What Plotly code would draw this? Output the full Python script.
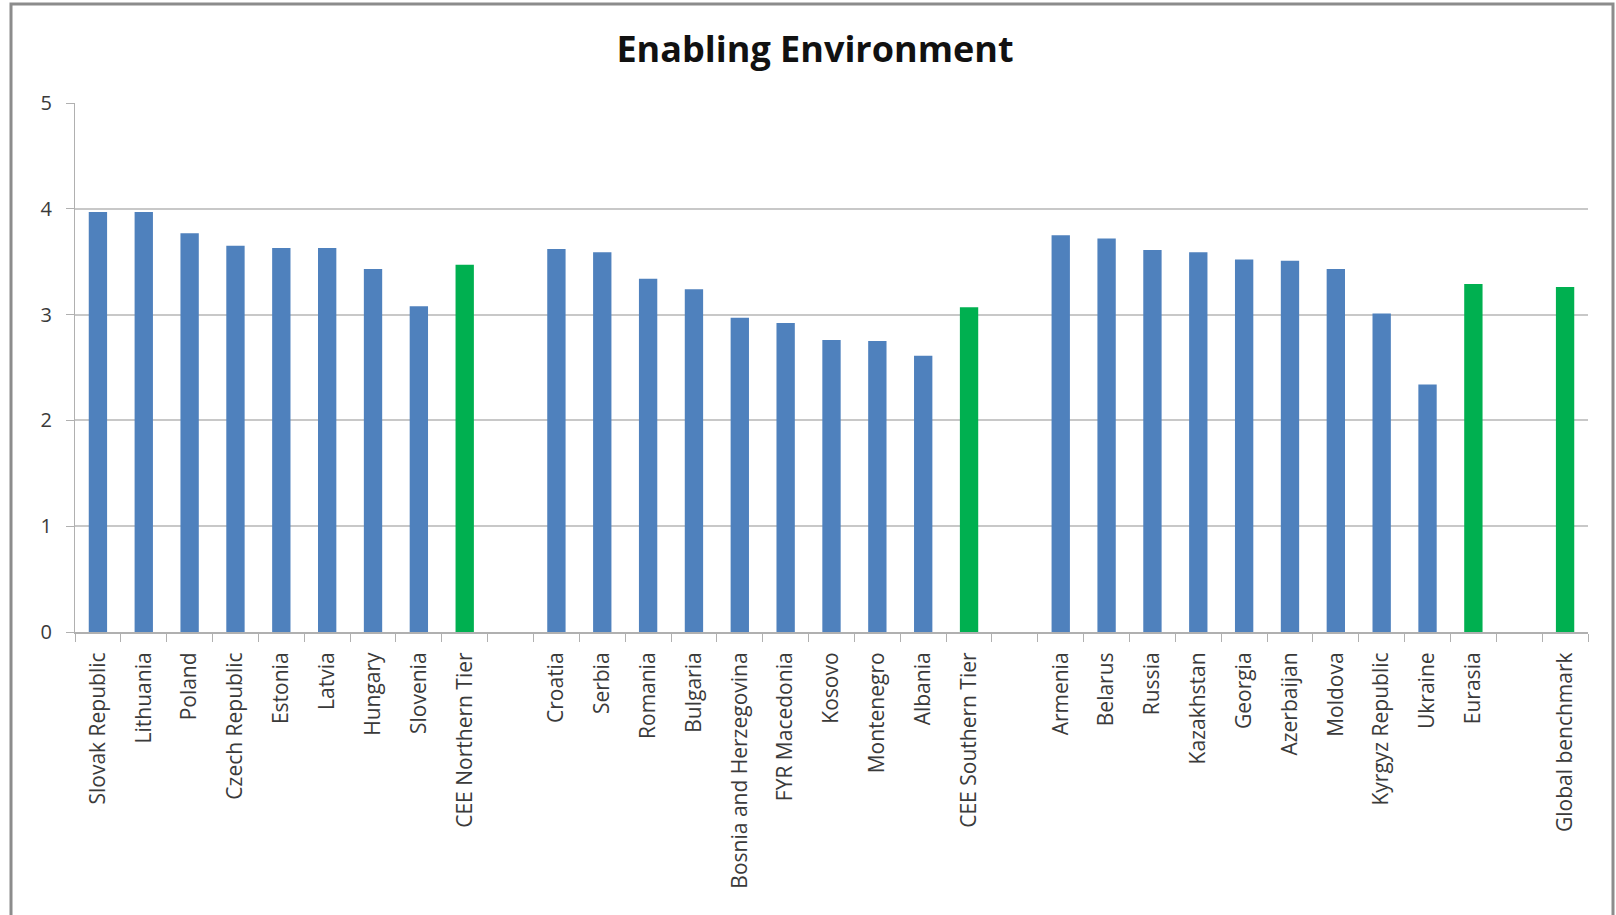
import plotly.graph_objects as go

categories = [
    "Slovak Republic", "Lithuania", "Poland", "Czech Republic", "Estonia", "Latvia",
    "Hungary", "Slovenia", "CEE Northern Tier", " ",
    "Croatia", "Serbia", "Romania", "Bulgaria", "Bosnia and Herzegovina", "FYR Macedonia",
    "Kosovo", "Montenegro", "Albania", "CEE Southern Tier", "  ",
    "Armenia", "Belarus", "Russia", "Kazakhstan", "Georgia", "Azerbaijan", "Moldova",
    "Kyrgyz Republic", "Ukraine", "Eurasia", "   ",
    "Global benchmark",
]
values = [
    3.97, 3.97, 3.77, 3.65, 3.63, 3.63, 3.43, 3.08, 3.47, None,
    3.62, 3.59, 3.34, 3.24, 2.97, 2.92, 2.76, 2.75, 2.61, 3.07, None,
    3.75, 3.72, 3.61, 3.59, 3.52, 3.51, 3.43, 3.01, 2.34, 3.29, None,
    3.26,
]
aggregates = ["CEE Northern Tier", "CEE Southern Tier", "Eurasia", "Global benchmark"]

BLUE = "#4F81BD"
GREEN = "#00B050"
colors = [GREEN if c in aggregates else BLUE for c in categories]

fig = go.Figure(go.Bar(
    x=categories, y=values, marker=dict(color=colors, line=dict(width=0)),
    width=0.4, showlegend=False,
))

FONT = "Open Sans"
TXT = "#3a3a3a"
fig.update_layout(
    width=1616, height=915,
    margin=dict(l=75, r=28, t=103, b=283),
    paper_bgcolor="white", plot_bgcolor="white",
    font=dict(family=FONT, color=TXT, size=21),
    title=dict(text="<b>Enabling Environment</b>", x=815 / 1616, xanchor="center",
               y=1 - 49 / 915, yanchor="middle",
               font=dict(family=FONT, size=36, color="#111111")),
    bargap=0.6,
)
fig.update_xaxes(
    type="category", categoryorder="array", categoryarray=categories,
    tickangle=-90, tickson="boundaries", ticks="outside", ticklen=8,
    tickcolor="#b0b0b0", tickwidth=1,
    showline=True, linecolor="#b0b0b0", linewidth=2,
    showgrid=False, ticklabelstandoff=10,
    tickfont=dict(family=FONT, size=21, color=TXT),
)
fig.update_yaxes(
    range=[0, 5], tickvals=[0, 1, 2, 3, 4, 5], ticks="outside", ticklen=8,
    tickcolor="#b0b0b0", showline=True, linecolor="#b0b0b0", linewidth=1,
    showgrid=True, gridcolor="#c8c8c8", gridwidth=2, zeroline=False,
    ticklabelstandoff=10,
    tickfont=dict(family=FONT, size=20, color=TXT),
)
# outer chart-area border
fig.add_shape(type="rect", xref="paper", yref="paper",
              x0=(11 - 75) / 1513, x1=(1613 - 75) / 1513,
              y0=(632 - 940) / 529, y1=(632 - 4) / 529,
              line=dict(color="#8c8c8c", width=3), fillcolor="rgba(0,0,0,0)",
              layer="below")

fig.write_html("out.html")
